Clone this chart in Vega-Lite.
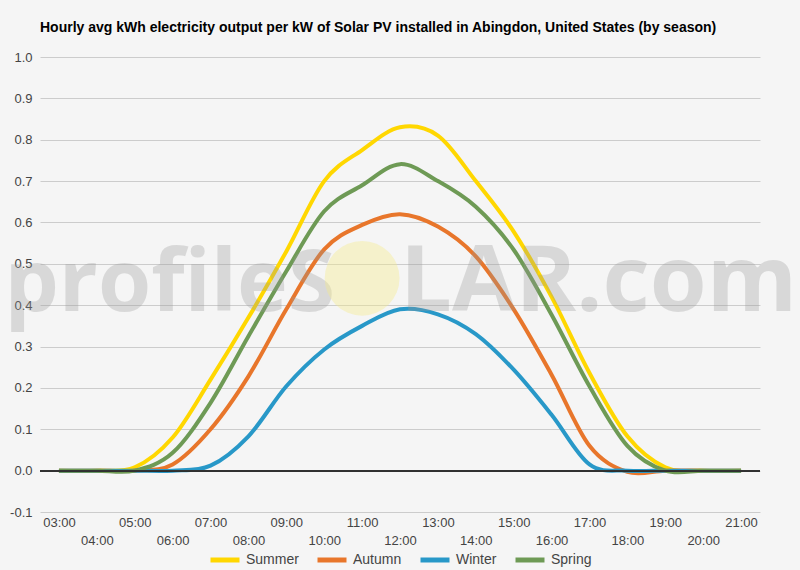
{
  "$schema": "https://vega.github.io/schema/vega-lite/v6.json",
  "width": 720,
  "height": 455,
  "autosize": {"type": "none"},
  "padding": {"left": 40, "top": 57, "right": 40, "bottom": 58},
  "background": "#F5F5F5",
  "title": {
    "text": "Hourly avg kWh electricity output per kW of Solar PV installed in Abingdon, United States (by season)",
    "anchor": "start",
    "frame": "group",
    "font": "Liberation Sans",
    "fontSize": 14,
    "fontWeight": "bold",
    "color": "#000000",
    "offset": 16
  },
  "config": {
    "view": {"stroke": null},
    "font": "Liberation Sans"
  },
  "data": {
    "values": [
      {"hour": "03:00", "season": "Summer", "kwh": 0},
      {"hour": "04:00", "season": "Summer", "kwh": 0},
      {"hour": "05:00", "season": "Summer", "kwh": 0.008},
      {"hour": "06:00", "season": "Summer", "kwh": 0.08},
      {"hour": "07:00", "season": "Summer", "kwh": 0.22},
      {"hour": "08:00", "season": "Summer", "kwh": 0.37},
      {"hour": "09:00", "season": "Summer", "kwh": 0.53},
      {"hour": "10:00", "season": "Summer", "kwh": 0.70},
      {"hour": "11:00", "season": "Summer", "kwh": 0.775},
      {"hour": "12:00", "season": "Summer", "kwh": 0.83},
      {"hour": "13:00", "season": "Summer", "kwh": 0.81},
      {"hour": "14:00", "season": "Summer", "kwh": 0.70},
      {"hour": "15:00", "season": "Summer", "kwh": 0.578},
      {"hour": "16:00", "season": "Summer", "kwh": 0.42},
      {"hour": "17:00", "season": "Summer", "kwh": 0.236},
      {"hour": "18:00", "season": "Summer", "kwh": 0.083},
      {"hour": "19:00", "season": "Summer", "kwh": 0.008},
      {"hour": "20:00", "season": "Summer", "kwh": 0},
      {"hour": "21:00", "season": "Summer", "kwh": 0},
      {"hour": "03:00", "season": "Autumn", "kwh": 0},
      {"hour": "04:00", "season": "Autumn", "kwh": 0},
      {"hour": "05:00", "season": "Autumn", "kwh": 0},
      {"hour": "06:00", "season": "Autumn", "kwh": 0.015},
      {"hour": "07:00", "season": "Autumn", "kwh": 0.10},
      {"hour": "08:00", "season": "Autumn", "kwh": 0.228},
      {"hour": "09:00", "season": "Autumn", "kwh": 0.39},
      {"hour": "10:00", "season": "Autumn", "kwh": 0.535},
      {"hour": "11:00", "season": "Autumn", "kwh": 0.594},
      {"hour": "12:00", "season": "Autumn", "kwh": 0.62},
      {"hour": "13:00", "season": "Autumn", "kwh": 0.59},
      {"hour": "14:00", "season": "Autumn", "kwh": 0.518},
      {"hour": "15:00", "season": "Autumn", "kwh": 0.39},
      {"hour": "16:00", "season": "Autumn", "kwh": 0.232},
      {"hour": "17:00", "season": "Autumn", "kwh": 0.06},
      {"hour": "18:00", "season": "Autumn", "kwh": -0.003},
      {"hour": "19:00", "season": "Autumn", "kwh": 0},
      {"hour": "20:00", "season": "Autumn", "kwh": 0},
      {"hour": "21:00", "season": "Autumn", "kwh": 0},
      {"hour": "03:00", "season": "Winter", "kwh": 0},
      {"hour": "04:00", "season": "Winter", "kwh": 0},
      {"hour": "05:00", "season": "Winter", "kwh": 0},
      {"hour": "06:00", "season": "Winter", "kwh": 0},
      {"hour": "07:00", "season": "Winter", "kwh": 0.012},
      {"hour": "08:00", "season": "Winter", "kwh": 0.083},
      {"hour": "09:00", "season": "Winter", "kwh": 0.204},
      {"hour": "10:00", "season": "Winter", "kwh": 0.293},
      {"hour": "11:00", "season": "Winter", "kwh": 0.35},
      {"hour": "12:00", "season": "Winter", "kwh": 0.39},
      {"hour": "13:00", "season": "Winter", "kwh": 0.378},
      {"hour": "14:00", "season": "Winter", "kwh": 0.33},
      {"hour": "15:00", "season": "Winter", "kwh": 0.244},
      {"hour": "16:00", "season": "Winter", "kwh": 0.135},
      {"hour": "17:00", "season": "Winter", "kwh": 0.015},
      {"hour": "18:00", "season": "Winter", "kwh": 0},
      {"hour": "19:00", "season": "Winter", "kwh": 0},
      {"hour": "20:00", "season": "Winter", "kwh": 0},
      {"hour": "21:00", "season": "Winter", "kwh": 0},
      {"hour": "03:00", "season": "Spring", "kwh": 0},
      {"hour": "04:00", "season": "Spring", "kwh": 0},
      {"hour": "05:00", "season": "Spring", "kwh": 0},
      {"hour": "06:00", "season": "Spring", "kwh": 0.043},
      {"hour": "07:00", "season": "Spring", "kwh": 0.164},
      {"hour": "08:00", "season": "Spring", "kwh": 0.325},
      {"hour": "09:00", "season": "Spring", "kwh": 0.482},
      {"hour": "10:00", "season": "Spring", "kwh": 0.627},
      {"hour": "11:00", "season": "Spring", "kwh": 0.69},
      {"hour": "12:00", "season": "Spring", "kwh": 0.741},
      {"hour": "13:00", "season": "Spring", "kwh": 0.70},
      {"hour": "14:00", "season": "Spring", "kwh": 0.638},
      {"hour": "15:00", "season": "Spring", "kwh": 0.534},
      {"hour": "16:00", "season": "Spring", "kwh": 0.377},
      {"hour": "17:00", "season": "Spring", "kwh": 0.204},
      {"hour": "18:00", "season": "Spring", "kwh": 0.06},
      {"hour": "19:00", "season": "Spring", "kwh": 0},
      {"hour": "20:00", "season": "Spring", "kwh": 0},
      {"hour": "21:00", "season": "Spring", "kwh": 0}
    ]
  },
  "layer": [
    {
      "mark": {"type": "line", "interpolate": "cardinal", "strokeWidth": 4},
      "encoding": {
        "x": {
          "field": "hour",
          "type": "ordinal",
          "scale": {"padding": 0.5},
          "axis": {
            "title": null,
            "labelAngle": 0,
            "domain": false,
            "ticks": false,
            "grid": false,
            "labelOverlap": false,
            "labelFontSize": 13,
            "labelColor": "#444444",
            "labelBaseline": "top",
            "labelPadding": {
              "condition": {"test": "toNumber(slice(datum.value, 0, 2)) % 2 == 0", "value": 22},
              "value": 4
            }
          }
        },
        "y": {
          "field": "kwh",
          "type": "quantitative",
          "scale": {"domain": [-0.1, 1.0], "nice": false, "zero": false},
          "axis": {
            "title": null,
            "domain": false,
            "ticks": false,
            "values": [-0.1, -0.05, 0, 0.05, 0.1, 0.15, 0.2, 0.25, 0.3, 0.35, 0.4, 0.45, 0.5, 0.55, 0.6, 0.65, 0.7, 0.75, 0.8, 0.85, 0.9, 0.95, 1.0],
            "labelExpr": "round(datum.value * 20) % 2 == 0 ? replace(format(datum.value, '.1f'), '\u2212', '-') : ''",
            "labelFontSize": 13,
            "labelColor": "#444444",
            "labelPadding": 8,
            "gridColor": {
              "condition": {"test": "round(datum.value * 20) % 2 == 0", "value": "#CCCCCC"},
              "value": "#E6E6E6"
            },
            "gridWidth": 1
          }
        },
        "color": {
          "field": "season",
          "type": "nominal",
          "scale": {
            "domain": ["Summer", "Autumn", "Winter", "Spring"],
            "range": ["#FFD700", "#E8762B", "#2898C8", "#6E9A55"]
          },
          "legend": {
            "title": null,
            "orient": "none",
            "direction": "horizontal",
            "legendX": 168,
            "legendY": 486,
            "symbolType": "stroke",
            "symbolStrokeWidth": 5,
            "symbolSize": 841,
            "labelFontSize": 14,
            "labelColor": "#444444",
            "labelOffset": 4,
            "columnPadding": 8
          }
        }
      }
    },
    {
      "mark": {"type": "rule", "color": "#333333", "strokeWidth": 1},
      "encoding": {"y": {"datum": 0}}
    },
    {
      "data": {"values": [{"part": "profileS"}]},
      "mark": {
        "type": "text",
        "font": "Open Sans",
        "fontWeight": "bold",
        "fontSize": 86,
        "align": "right",
        "baseline": "alphabetic",
        "dx": -27,
        "color": "#999999",
        "opacity": 0.3
      },
      "encoding": {
        "text": {"field": "part"},
        "x": {"datum": "11:00", "type": "ordinal"},
        "y": {"datum": 0.385}
      }
    },
    {
      "data": {"values": [{"part": "LAR.com"}]},
      "mark": {
        "type": "text",
        "font": "Open Sans",
        "fontWeight": "bold",
        "fontSize": 92,
        "align": "left",
        "baseline": "alphabetic",
        "color": "#999999",
        "opacity": 0.3
      },
      "encoding": {
        "text": {"field": "part"},
        "x": {"datum": "12:00", "type": "ordinal"},
        "y": {"datum": 0.385}
      }
    },
    {
      "data": {"values": [{"part": "sun"}]},
      "mark": {"type": "point", "shape": "circle", "filled": true, "size": 5600, "color": "#F6EC8C", "opacity": 0.4},
      "encoding": {
        "x": {"datum": "11:00", "type": "ordinal"},
        "y": {"datum": 0.465}
      }
    }
  ]
}
